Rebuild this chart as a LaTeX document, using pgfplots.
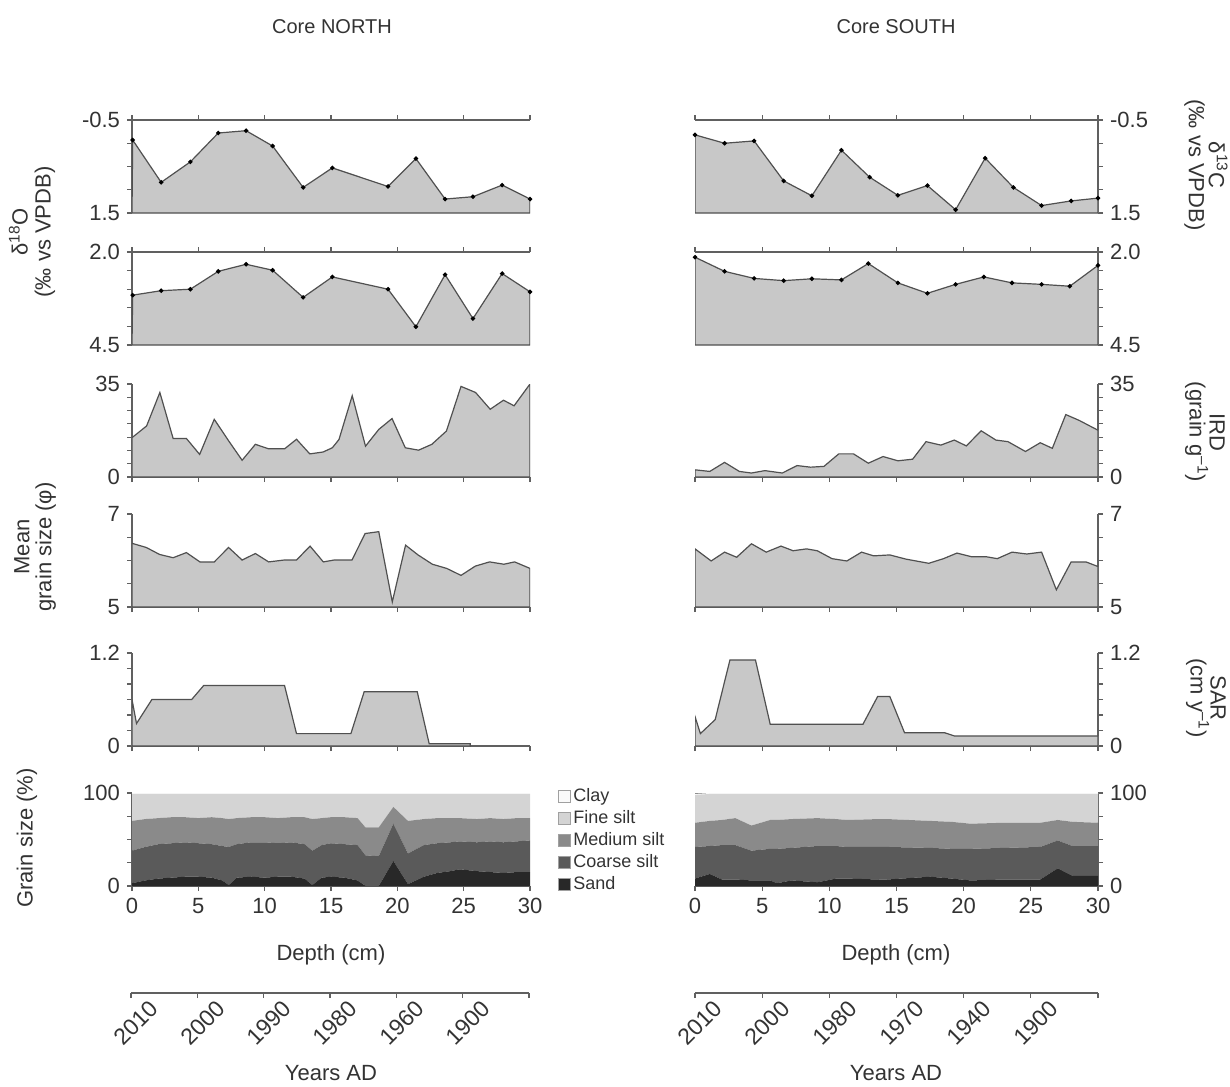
\documentclass[border=0pt]{standalone}
\usepackage{pgfplots}
\pgfplotsset{compat=1.18}
\usepackage{pgfplotstable}
\usepackage{fontspec}
\setmainfont{Liberation Sans}

\definecolor{fillc}{HTML}{C8C8C8}
\definecolor{linec}{HTML}{505050}
\definecolor{axc}{HTML}{606060}
\definecolor{txt}{HTML}{333333}
\definecolor{sandc}{HTML}{282828}
\definecolor{coarsec}{HTML}{5A5A5A}
\definecolor{mediumc}{HTML}{8A8A8A}
\definecolor{finec}{HTML}{D4D4D4}
\definecolor{clayc}{HTML}{FAFAFA}

% ---------------- Core NORTH ----------------
\pgfplotstableread{
d v
0.05 -0.07
2.2 0.84
4.4 0.40
6.5 -0.22
8.6 -0.27
10.6 0.06
12.9 0.95
15.1 0.53
19.3 0.93
21.4 0.33
23.6 1.20
25.7 1.15
27.9 0.90
30 1.20
}\cN
\pgfplotstableread{
d v
0.05 3.16
2.2 3.04
4.4 3.00
6.5 2.52
8.6 2.33
10.6 2.49
12.9 3.22
15.1 2.67
19.3 3.00
21.4 4.01
23.6 2.61
25.7 3.79
27.9 2.58
30 3.07
}\oN
\pgfplotstableread{
d v
0 14.8
1.1 19.2
2.1 31.8
3.1 14.5
4.1 14.5
5.1 8.5
6.2 21.7
7.3 13.5
8.3 6.3
9.3 12.3
10.3 10.6
11.5 10.6
12.4 14.2
13.4 8.7
14.4 9.4
15.1 11.0
15.6 14.1
16.6 30.6
17.6 11.6
18.6 17.9
19.6 22.0
20.6 11.0
21.6 10.1
22.6 12.3
23.7 17.3
24.8 34.1
25.9 31.8
27.0 25.5
28.0 28.9
28.8 26.8
30 35
}\iN
\pgfplotstableread{
d v
0 6.37
1.08 6.28
2.08 6.13
3.10 6.06
4.10 6.17
5.12 5.97
6.20 5.97
7.28 6.28
8.30 6.01
9.30 6.15
10.30 5.97
11.46 6.01
12.40 6.01
13.42 6.31
14.42 5.97
15.23 6.01
16.58 6.01
17.57 6.58
18.60 6.62
19.62 5.11
20.62 6.33
21.56 6.12
22.64 5.92
23.72 5.83
24.80 5.68
25.88 5.88
26.95 5.97
28.03 5.92
28.84 5.97
30 5.83
}\mN
\pgfplotstableread{
d v
0 0.60
0.34 0.29
1.5 0.60
4.5 0.60
5.4 0.78
11.5 0.78
12.4 0.16
16.5 0.16
17.5 0.70
21.5 0.70
22.4 0.03
25.5 0.03
}\sN
\pgfplotstableread{
d sand coarse medium fine clay
0 3 35 32 29 1
1 6 36 30 27 1
2 8 37 28 26 1
3 9 37 28 25 1
4 10 37 27 25 1
5 10 36 27 26 1
6 9 36 29 25 1
6.8 6 37 30 26 1
7.3 1 41 30 27 1
7.9 9 36 28 26 1
9 10 37 27 25 1
10 9 38 27 25 1
11 10 36 27 26 1
12 10 37 27 25 1
13 8 37 29 25 1
13.6 1 37 34 27 1
14.3 9 35 29 26 1
15 10 36 28 25 1
16 9 36 29 25 1
17 6 38 29 26 1
17.6 0 33 30 36 1
18.6 0 32 31 36 1
19.7 27 40 18 14 1
20.8 2 33 35 29 1
22 10 34 28 27 1
23 14 32 27 26 1
24 16 31 26 26 1
24.7 18 30 25 26 1
26 16 31 25 27 1
27 15 33 25 26 1
28 14 33 25 27 1
29 15 33 25 26 1
30 15 34 24 26 1
}\gN

% ---------------- Core SOUTH ----------------
\pgfplotstableread{
d v
0 -0.18
2.2 0.00
4.4 -0.05
6.6 0.81
8.7 1.13
10.9 0.15
13.0 0.73
15.1 1.12
17.3 0.91
19.4 1.43
21.6 0.32
23.7 0.95
25.8 1.34
28.0 1.24
30 1.18
}\cS
\pgfplotstableread{
d v
0 2.14
2.2 2.52
4.4 2.71
6.6 2.77
8.7 2.72
10.9 2.75
12.9 2.31
15.1 2.83
17.3 3.11
19.4 2.87
21.5 2.67
23.6 2.83
25.8 2.87
27.9 2.92
30 2.36
}\oS
\pgfplotstableread{
d v
0 2.7
1.1 2.1
2.2 5.5
3.3 2.1
4.2 1.5
5.2 2.4
6.5 1.5
7.6 4.3
8.6 3.7
9.6 4.0
10.7 8.7
11.8 8.7
12.9 5.2
14.0 7.7
15.1 6.1
16.2 6.7
17.2 13.3
18.3 12.0
19.3 13.9
20.2 11.7
21.3 17.4
22.4 13.9
23.3 13.3
24.6 9.6
25.7 12.9
26.6 10.8
27.6 23.5
28.6 21.3
30 17.6
}\iS
\pgfplotstableread{
d v
0 6.25
1.2 5.99
2.2 6.18
3.1 6.07
4.2 6.36
5.3 6.18
6.4 6.31
7.3 6.21
8.3 6.25
9.1 6.21
10.2 6.04
11.3 5.99
12.4 6.18
13.3 6.10
14.5 6.12
15.7 6.03
17.4 5.94
18.5 6.04
19.5 6.16
20.6 6.08
21.7 6.08
22.5 6.04
23.6 6.18
24.7 6.14
25.8 6.18
26.9 5.37
28.0 5.97
29.1 5.97
30 5.87
}\mS
\pgfplotstableread{
d v
0 0.38
0.4 0.16
1.5 0.34
2.6 1.11
4.5 1.11
5.6 0.28
12.5 0.28
13.6 0.64
14.5 0.64
15.6 0.17
18.6 0.17
19.3 0.13
30 0.13
}\sS
\pgfplotstableread{
d sand coarse medium fine clay
0 8 34 26 30 1
1.1 13 30 27 29 1
2 7 37 27 28 1
3 7 37 29 26 1
4.2 6 32 27 34 1
5.6 6 34 31 28 1
6.1 3 37 31 28 1
7.2 6 35 31 27 1
9.1 4 39 30 26 1
10.5 8 35 29 27 1
11.3 8 34 29 28 1
13.7 7 35 30 27 1
14.3 7 35 30 27 1
17.5 10 31 29 29 1
19.1 8 32 29 30 1
20.5 6 34 27 32 1
23 7 34 27 31 1
25.7 7 35 26 31 1
27 19 30 22 28 1
28.1 11 32 26 30 1
30 11 32 25 31 1
}\gS

\pgfplotsset{
  panel/.style={
    scale only axis, height=46.5pt,
    xmin=0, xmax=30, anchor=south west,
    axis line style={draw=axc, line width=0.7pt},
    xtick={0,5,...,30}, xticklabels={,,,,,,},
    tick align=outside, major tick length=2.5pt,
    tick style={draw=axc, line width=0.6pt},
    tick label style={font=\fontsize{11}{13}\selectfont, text=txt},
  },
  L/.style={panel, width=199pt, axis y line*=left},
  R/.style={panel, width=201.5pt, axis y line*=right},
  xb/.style={axis x line*=bottom},
  xt/.style={axis x line*=top},
  myarea/.style={draw=linec, fill=fillc, line width=0.6pt},
  dots/.style={mark=*, mark size=0.8pt, mark options={draw=black, fill=black}},
  dC/.style={ymin=-0.5, ymax=1.5, y dir=reverse, ytick={-0.5,0,0.5,1,1.5}, yticklabels={-0.5,,,,1.5}},
  dO/.style={ymin=2, ymax=4.5, y dir=reverse, ytick={2,2.5,3,3.5,4,4.5}, yticklabels={2.0,,,,,4.5}},
  ird/.style={ymin=0, ymax=35, ytick={0,5,10,15,20,25,30,35}, yticklabels={0,,,,,,,35}},
  phi/.style={ymin=5, ymax=7, ytick={5,5.5,6,6.5,7}, yticklabels={5,,,,7}},
  sar/.style={ymin=0, ymax=1.2, ytick={0,0.2,0.4,0.6,0.8,1.0,1.2}, yticklabels={0,,,,,,1.2}},
  gs/.style={ymin=0, ymax=100, ytick={0,25,50,75,100}, yticklabels={0,,,,100},
    xticklabels={0,5,10,15,20,25,30}, stack plots=y},
  yrs/.style={scale only axis, anchor=south west, height=1pt, xmin=0, xmax=30, ymin=0, ymax=1,
    axis x line*=bottom, hide y axis,
    axis line style={draw=axc, line width=0.7pt},
    xtick={0,5,...,30}, tick align=outside, major tick length=2.5pt,
    tick style={draw=axc, line width=0.6pt},
    xticklabel style={font=\fontsize{11.5}{13}\selectfont, text=txt, rotate=45, anchor=east, xshift=9.5pt, yshift=-10.5pt}},
}

\begin{document}
\begin{tikzpicture}
\useasboundingbox (0pt,0pt) rectangle (615pt,-543pt);

% ===== NORTH =====
\begin{axis}[L, xt, dC, at={(66pt,-106.5pt)}]
\addplot[myarea, dots] table[x=d,y=v] {\cN} -- (axis cs:30,1.5) -- (axis cs:0,1.5) -- cycle;
\end{axis}
\begin{axis}[L, xt, dO, at={(66pt,-172.5pt)}]
\addplot[myarea, dots] table[x=d,y=v] {\oN} -- (axis cs:30,4.5) -- (axis cs:0,4.5) -- cycle;
\end{axis}
\begin{axis}[L, xb, ird, at={(66pt,-238.5pt)}]
\addplot[myarea] table[x=d,y=v] {\iN} -- (axis cs:30,0) -- (axis cs:0,0) -- cycle;
\end{axis}
\begin{axis}[L, xb, phi, at={(66pt,-303.5pt)}]
\addplot[myarea] table[x=d,y=v] {\mN} -- (axis cs:30,5) -- (axis cs:0,5) -- cycle;
\end{axis}
\begin{axis}[L, xb, sar, at={(66pt,-373pt)}]
\addplot[myarea] table[x=d,y=v] {\sN} -- (axis cs:25.5,0) -- (axis cs:0,0) -- cycle;
\end{axis}
\begin{axis}[L, xb, gs, at={(66pt,-443pt)},
  reverse legend, legend cell align=left,
  legend style={at={(1.055,1.12)}, anchor=north west, draw=none, fill=none,
    font=\fontsize{9}{11}\selectfont, text=txt, row sep=0.5pt,
    nodes={inner sep=1.2pt}},
  legend image code/.code={\draw[#1, draw=axc!60, line width=0.3pt] (0pt,-3pt) rectangle (6pt,3pt);}]
\addplot[fill=sandc, draw=none] table[x=d,y=sand] {\gN} \closedcycle;
\addplot[fill=coarsec, draw=none] table[x=d,y=coarse] {\gN} \closedcycle;
\addplot[fill=mediumc, draw=none] table[x=d,y=medium] {\gN} \closedcycle;
\addplot[fill=finec, draw=none] table[x=d,y=fine] {\gN} \closedcycle;
\addplot[fill=clayc, draw=none] table[x=d,y=clay] {\gN} \closedcycle;
\legend{Sand, Coarse silt, Medium silt, Fine silt, Clay}
\draw[axc!80, line width=0.6pt] (rel axis cs:0,1) -- (rel axis cs:1,1);
\end{axis}
\begin{axis}[yrs, width=199pt, at={(65.5pt,-496.5pt)}, xticklabels={2010,2000,1990,1980,1960,1900,}]
\end{axis}

% ===== SOUTH =====
\begin{axis}[R, xt, dC, at={(347.5pt,-106.5pt)}]
\addplot[myarea, dots] table[x=d,y=v] {\cS} -- (axis cs:30,1.5) -- (axis cs:0,1.5) -- cycle;
\end{axis}
\begin{axis}[R, xt, dO, at={(347.5pt,-172.5pt)}]
\addplot[myarea, dots] table[x=d,y=v] {\oS} -- (axis cs:30,4.5) -- (axis cs:0,4.5) -- cycle;
\end{axis}
\begin{axis}[R, xb, ird, at={(347.5pt,-238.5pt)}]
\addplot[myarea] table[x=d,y=v] {\iS} -- (axis cs:30,0) -- (axis cs:0,0) -- cycle;
\end{axis}
\begin{axis}[R, xb, phi, at={(347.5pt,-303.5pt)}]
\addplot[myarea] table[x=d,y=v] {\mS} -- (axis cs:30,5) -- (axis cs:0,5) -- cycle;
\end{axis}
\begin{axis}[R, xb, sar, at={(347.5pt,-373pt)}]
\addplot[myarea] table[x=d,y=v] {\sS} -- (axis cs:30,0) -- (axis cs:0,0) -- cycle;
\end{axis}
\begin{axis}[R, xb, gs, at={(347.5pt,-443pt)}]
\addplot[fill=sandc, draw=none] table[x=d,y=sand] {\gS} \closedcycle;
\addplot[fill=coarsec, draw=none] table[x=d,y=coarse] {\gS} \closedcycle;
\addplot[fill=mediumc, draw=none] table[x=d,y=medium] {\gS} \closedcycle;
\addplot[fill=finec, draw=none] table[x=d,y=fine] {\gS} \closedcycle;
\addplot[fill=clayc, draw=none] table[x=d,y=clay] {\gS} \closedcycle;
\draw[axc!80, line width=0.6pt] (rel axis cs:0,1) -- (rel axis cs:1,1);
\end{axis}
\begin{axis}[yrs, width=201.5pt, at={(347.5pt,-496.5pt)}, xticklabels={2010,2000,1980,1970,1940,1900,}]
\end{axis}

% ===== Texts =====
\begin{scope}[every node/.style={text=txt}]
\node[font=\fontsize{10}{12}\selectfont] at (166pt,-13.5pt) {Core NORTH};
\node[font=\fontsize{10}{12}\selectfont] at (448pt,-13.5pt) {Core SOUTH};
\node[font=\fontsize{11}{13}\selectfont] at (165.5pt,-477.5pt) {Depth (cm)};
\node[font=\fontsize{11}{13}\selectfont] at (448pt,-477.5pt) {Depth (cm)};
\node[font=\fontsize{11}{13}\selectfont] at (165.5pt,-536.5pt) {Years AD};
\node[font=\fontsize{11}{13}\selectfont] at (448pt,-536.5pt) {Years AD};
\node[font=\fontsize{11}{11.5}\selectfont, rotate=90, align=center] at (16pt,-116pt) {δ\textsuperscript{18}O\\(‰ vs VPDB)};
\node[font=\fontsize{11}{11}\selectfont, rotate=90, align=center] at (17.5pt,-273.5pt) {Mean\\grain size (φ)};
\node[font=\fontsize{11}{13}\selectfont, rotate=90] at (13.5pt,-419pt) {Grain size (\%)};
\node[font=\fontsize{11}{10}\selectfont, rotate=-90, align=center] at (603pt,-82.5pt) {δ\textsuperscript{13}C\\(‰ vs VPDB)};
\node[font=\fontsize{11}{10}\selectfont, rotate=-90, align=center] at (602.5pt,-216pt) {IRD\\(grain g\textsuperscript{–1})};
\node[font=\fontsize{11}{10}\selectfont, rotate=-90, align=center] at (603pt,-349pt) {SAR\\(cm y\textsuperscript{–1})};
\end{scope}
\end{tikzpicture}
\end{document}
